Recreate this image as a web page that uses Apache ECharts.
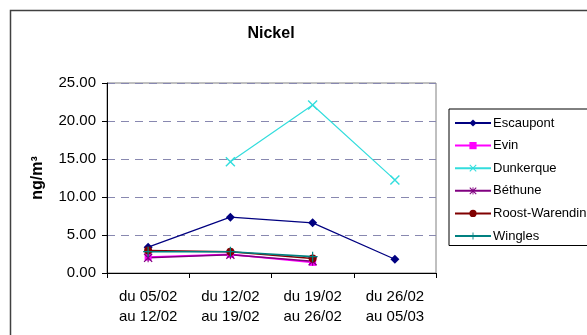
<!DOCTYPE html>
<html>
<head>
<meta charset="utf-8">
<script src="https://cdn.jsdelivr.net/npm/echarts@6/dist/echarts.min.js"></script>
<style>
  html, body { margin: 0; padding: 0; background: #fff; }
  #chart { width: 587px; height: 335px; }
</style>
</head>
<body>
<div id="chart"></div>
<script>
// Weekly sampling periods
const periods = ['du 05/02\nau 12/02', 'du 12/02\nau 19/02', 'du 19/02\nau 26/02', 'du 26/02\nau 05/03'];

// Nickel concentrations (ng/m3) per station
const escaupont = [3.4, 7.35, 6.6, 1.8];
const evin = [2.1, 2.45, 1.4, null];
const dunkerque = [null, 14.65, 22.1, 12.25];
const bethune = [2.0, 2.4, 1.55, null];
const roostWarendin = [2.95, 2.8, 1.9, null];
const wingles = [2.8, 2.8, 2.15, null];

const yTicks = { min: 0, max: 25, interval: 5 };

const FONT = 'Liberation Sans, Arial, sans-serif';

// Marker outlines
const X_PATH = 'path://M0,1L1,0L10,9L9,10Z M9,0L10,1L1,10L0,9Z';
const PLUS_PATH = 'path://M4.4,0H5.6V10H4.4Z M0,4.4H10V5.6H0Z';
const STAR_PATH = 'path://M0,1L1,0L10,9L9,10Z M9,0L10,1L1,10L0,9Z M4.4,0H5.6V10H4.4Z';

function lineSeries(name, data, color, symbol, size, width) {
  return {
    name: name,
    type: 'line',
    data: data,
    symbol: symbol,
    symbolSize: size,
    showSymbol: true,
    lineStyle: { color: color, width: width },
    itemStyle: { color: color, borderColor: color, borderWidth: 0 },
    emphasis: { disabled: true },
    animation: false,
    z: 3
  };
}

const chart = echarts.init(document.getElementById('chart'), null, { renderer: 'canvas' });

chart.setOption({
  backgroundColor: '#fff',
  animation: false,
  graphic: [
    {
      type: 'rect',
      shape: { x: 10.5, y: 10.5, width: 620, height: 400 },
      style: { fill: 'none', stroke: '#404040', lineWidth: 1.5 },
      silent: true,
      z: 0
    },
    {
      type: 'text',
      x: 271,
      y: 34,
      style: {
        text: 'Nickel',
        font: 'bold 16px ' + FONT,
        fill: '#000',
        align: 'center',
        verticalAlign: 'middle'
      },
      silent: true
    }
  ],
  legend: {
    orient: 'vertical',
    left: 449,
    top: 109,
    width: 137,
    padding: [7.5, 40, 3, 5],
    itemWidth: 36,
    itemHeight: 9,
    itemGap: 9.6,
    borderColor: '#000',
    borderWidth: 1,
    backgroundColor: '#fff',
    textStyle: { fontFamily: FONT, fontSize: 13, color: '#000', padding: [0, 0, 0, -3] },
    data: ['Escaupont', 'Evin', 'Dunkerque', 'Béthune', 'Roost-Warendin', 'Wingles']
  },
  grid: {
    left: 107,
    right: 151,
    top: 83,
    bottom: 62,
    show: true,
    borderColor: '#808080',
    borderWidth: 1
  },
  xAxis: {
    type: 'category',
    data: periods,
    boundaryGap: true,
    axisLine: { lineStyle: { color: '#000', width: 1 } },
    axisTick: { show: true, alignWithLabel: false, length: 5, lineStyle: { color: '#000' } },
    axisLabel: {
      fontFamily: FONT,
      fontSize: 15,
      color: '#000',
      lineHeight: 20,
      margin: 14,
      interval: 0
    },
    splitLine: { show: false }
  },
  yAxis: {
    type: 'value',
    min: yTicks.min,
    max: yTicks.max,
    interval: yTicks.interval,
    name: 'ng/m³',
    nameLocation: 'middle',
    nameRotate: 90,
    nameGap: 61,
    nameTextStyle: { fontFamily: FONT, fontSize: 16, fontWeight: 'bold', color: '#000' },
    axisLine: { show: true, lineStyle: { color: '#000', width: 1 } },
    axisTick: { show: true, length: 5, lineStyle: { color: '#000' } },
    axisLabel: {
      fontFamily: FONT,
      fontSize: 15,
      color: '#000',
      margin: 11,
      formatter: v => v.toFixed(2)
    },
    splitLine: { show: true, lineStyle: { color: '#8888b0', type: [8, 6], width: 1 } }
  },
  series: [
    lineSeries('Escaupont', escaupont, '#000080', 'diamond', 9, 1.2),
    lineSeries('Evin', evin, '#ff00ff', 'rect', 7, 1.6),
    lineSeries('Dunkerque', dunkerque, '#33dddd', X_PATH, 10, 1.2),
    lineSeries('Béthune', bethune, '#800080', STAR_PATH, 9, 1.6),
    lineSeries('Roost-Warendin', roostWarendin, '#800000', 'circle', 8, 1.6),
    lineSeries('Wingles', wingles, '#008080', PLUS_PATH, 10, 1.6)
  ]
});
</script>
</body>
</html>
